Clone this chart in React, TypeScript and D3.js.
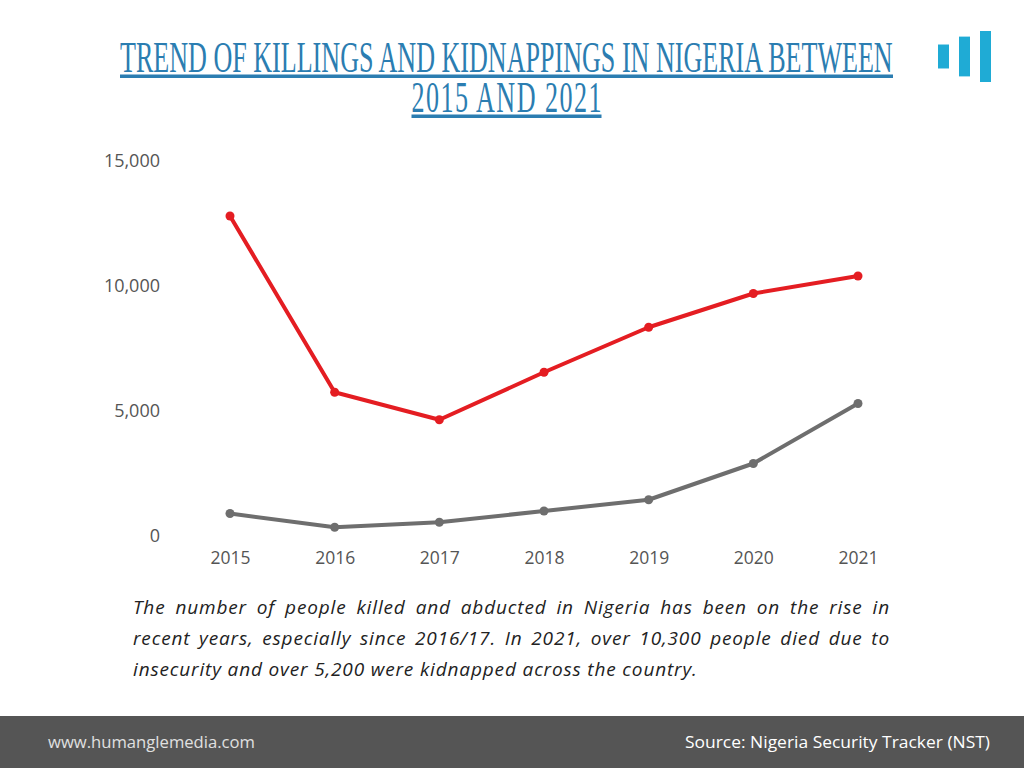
import React, { useEffect, useRef } from 'react';
import * as d3 from 'd3';

const years = ['2015', '2016', '2017', '2018', '2019', '2020', '2021'];
const killings = [12800, 5750, 4650, 6550, 8350, 9700, 10400];
const kidnappings = [900, 350, 550, 1000, 1450, 2900, 5300];
const yTicks = [0, 5000, 10000, 15000];

const titleLines = ['TREND OF KILLINGS AND KIDNAPPINGS IN NIGERIA BETWEEN', '2015 AND 2021'];
const noteLines = [
  'The number of people killed and abducted in Nigeria has been on the rise in',
  'recent years, especially since 2016/17. In 2021, over 10,300 people died due to',
  'insecurity and over 5,200 were kidnapped across the country.',
];
const logoBars = [0.47, 0.78, 1];

export default function App() {
  const svgRef = useRef<SVGSVGElement>(null);

  useEffect(() => {
    if (!svgRef.current) return;
    const svg = d3.select(svgRef.current);
    svg.selectAll('*').remove();

    const width = 1024;
    const height = 768;

    svg.append('rect').attr('width', width).attr('height', height).attr('fill', '#fff');

    // title: one text, two lines, squeezed to look like a condensed serif
    const titleColor = '#2b7db1';
    const titleCx = 506.5;
    const titleBase = 72;
    const lineGap = 40;
    const sy = 1.2;
    const titleWidths = [773, 190];
    const title = svg.append('text')
      .style('font-family', '"Liberation Serif", serif')
      .style('font-size', '36.5px')
      .style('fill', titleColor);
    const spans = titleLines.map((l, i) =>
      title.append('tspan')
        .attr('dy', i === 0 ? 0 : lineGap / sy)
        .text(l)
    );
    const natural = spans.map(sp => (sp.node() as SVGTextContentElement).getComputedTextLength());
    const sx = titleWidths[0] / natural[0];
    title.attr('transform', `translate(${titleCx},${titleBase}) scale(${sx},${sy})`);
    spans.forEach((sp, i) => {
      const target = titleWidths[i] / sx;
      const n = titleLines[i].length;
      const ls = i === 0 ? 0 : (target - natural[i]) / (n - 1);
      sp.style('letter-spacing', `${ls}px`).attr('x', -target / 2);
      svg.append('rect')
        .attr('x', titleCx - titleWidths[i] / 2)
        .attr('y', titleBase + i * lineGap + 2.5)
        .attr('width', titleWidths[i])
        .attr('height', 3.5)
        .attr('fill', titleColor);
    });

    // logo
    const logoX = d3.scaleBand<number>()
      .domain(logoBars.map((_, i) => i))
      .range([938, 991])
      .paddingInner(10 / 21)
      .paddingOuter(0);
    const logoH = d3.scaleLinear().domain([0, 1]).range([0, 51]);
    svg.append('g')
      .selectAll('rect')
      .data(logoBars)
      .join('rect')
      .attr('x', (_, i) => logoX(i)!)
      .attr('width', logoX.bandwidth())
      .attr('y', d => 56.5 - logoH(d) / 2)
      .attr('height', d => logoH(d))
      .attr('fill', '#1fabd5');

    // chart
    const x = d3.scalePoint<string>().domain(years).range([230, 858]);
    const y = d3.scaleLinear().domain([0, 15000]).range([536, 161]);

    const yAxis = svg.append('g')
      .attr('transform', 'translate(160,0)')
      .call(d3.axisLeft(y).tickValues(yTicks).tickSize(0).tickPadding(0).tickFormat(d3.format(',')));
    yAxis.select('.domain').remove();
    yAxis.selectAll('text')
      .style('font-family', '"Open Sans", sans-serif')
      .style('font-size', '18px')
      .style('fill', '#555');

    const xAxis = svg.append('g')
      .attr('transform', 'translate(0,550)')
      .call(d3.axisBottom(x).tickSize(0).tickPadding(0));
    xAxis.select('.domain').remove();
    xAxis.selectAll('text')
      .attr('dy', '0.8em')
      .style('font-family', '"Open Sans", sans-serif')
      .style('font-size', '17.5px')
      .style('fill', '#555');

    const series = [
      { values: kidnappings, color: '#6e6e6e' },
      { values: killings, color: '#e41d22' },
    ];
    const line = d3.line<number>()
      .x((_, i) => x(years[i])!)
      .y(d => y(d));

    series.forEach(s => {
      svg.append('path')
        .attr('d', line(s.values)!)
        .attr('fill', 'none')
        .attr('stroke', s.color)
        .attr('stroke-width', 4)
        .attr('stroke-linejoin', 'round');
      svg.append('g')
        .selectAll('circle')
        .data(s.values)
        .join('circle')
        .attr('cx', (_, i) => x(years[i])!)
        .attr('cy', d => y(d))
        .attr('r', 4.5)
        .attr('fill', s.color);
    });

    // note, justified by stretching word spacing
    const noteWidth = 757;
    noteLines.forEach((l, i) => {
      const t = svg.append('text')
        .attr('x', 133)
        .attr('y', 614 + i * 31)
        .style('font-family', '"Open Sans", sans-serif')
        .style('font-style', 'italic')
        .style('font-size', '19px')
        .style('letter-spacing', '0.85px')
        .style('fill', '#222')
        .text(l);
      if (i < noteLines.length - 1) {
        const node = t.node() as SVGTextElement;
        const w = node.getComputedTextLength();
        const gaps = l.split(' ').length - 1;
        if (gaps > 0 && w < noteWidth) t.style('word-spacing', `${(noteWidth - w) / gaps}px`);
      }
    });

    // footer
    svg.append('rect').attr('x', 0).attr('y', 716).attr('width', width).attr('height', 52).attr('fill', '#555555');
    svg.append('text')
      .attr('x', 48)
      .attr('y', 748)
      .attr('textLength', 207)
      .attr('lengthAdjust', 'spacingAndGlyphs')
      .style('font-family', '"Open Sans", sans-serif')
      .style('font-size', '17px')
      .style('fill', '#e0e0e0')
      .text('www.humanglemedia.com');
    svg.append('text')
      .attr('x', 685)
      .attr('y', 748)
      .attr('textLength', 305)
      .attr('lengthAdjust', 'spacingAndGlyphs')
      .style('font-family', '"Open Sans", sans-serif')
      .style('font-size', '17px')
      .style('fill', '#fff')
      .text('Source: Nigeria Security Tracker (NST)');
  }, []);

  return (
    <svg
      ref={svgRef}
      width={1024}
      height={768}
      style={{ position: 'absolute', left: 0, top: 0, display: 'block' }}
    />
  );
}
